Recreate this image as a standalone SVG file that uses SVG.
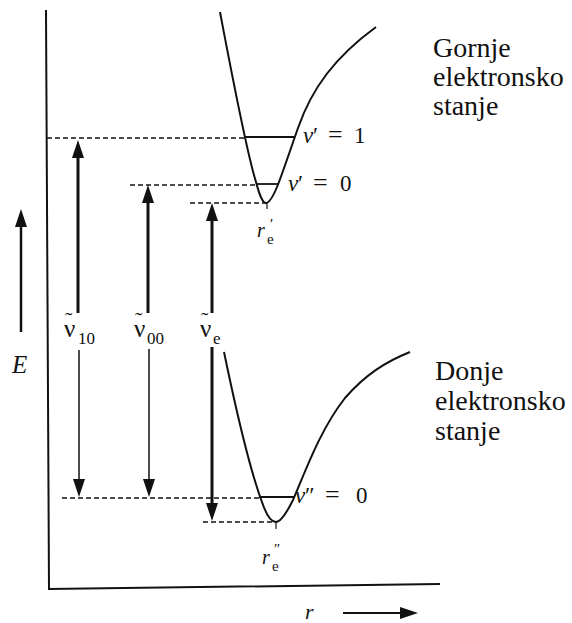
<svg xmlns="http://www.w3.org/2000/svg" width="572" height="623" viewBox="0 0 572 623">
<style>
.ax{stroke:#111;stroke-width:2;fill:none}
.curve{stroke:#111;stroke-width:2;fill:none;stroke-linejoin:round}
.lvl{stroke:#111;stroke-width:1.8}
.dash{stroke:#111;stroke-width:1.3;stroke-dasharray:5 3;fill:none}
.thick{stroke:#111;stroke-width:3;fill:none}
.thin{stroke:#111;stroke-width:1.5;fill:none}
.tick{stroke:#111;stroke-width:1.2}
text{font-family:"Liberation Serif","DejaVu Serif",serif;fill:#111}
.it{font-style:italic}
.big{font-size:28px}
.mid{font-size:23px}
.sub{font-size:17px}
</style>
<defs>
<marker id="ah" markerUnits="userSpaceOnUse" markerWidth="18" markerHeight="12" refX="2" refY="6" orient="auto" viewBox="0 0 18 12">
<path d="M0,0 L18,6 L0,12 z" fill="#111"/>
</marker>
</defs>
<rect width="572" height="623" fill="#fff"/>
<g id="axes">
<path class="ax" d="M46,10 L49,589 L440,584"/>
<path class="thick" style="stroke-width:2.5" d="M21,332 L21,225" marker-end="url(#ah)"/>
<text class="it" x="12" y="373" font-size="25">E</text>
<path class="ax" d="M343,613 L402,613" marker-end="url(#ah)"/>
<text class="it" x="305" y="619" font-size="22">r</text>
</g>
<g id="upper-state">
<path class="curve" d="M220,12 C232,75 246,150 256,182 C259,193 262,203 266,203 C270,203 274,195 279,182 C286,163 292,145 298,128 C312,88 335,57 376,27"/>
<line class="lvl" x1="245" y1="137" x2="294" y2="137"/>
<line class="lvl" x1="257" y1="184" x2="279" y2="184"/>
<line class="tick" x1="267" y1="203" x2="267" y2="209"/>
<text class="mid"><tspan class="it" x="303" y="143">v</tspan><tspan x="313" y="143">′</tspan><tspan x="328" y="143" font-size="26">=</tspan><tspan x="354" y="143">1</tspan></text>
<text class="mid"><tspan class="it" x="288" y="191">v</tspan><tspan x="298" y="191">′</tspan><tspan x="313" y="191" font-size="26">=</tspan><tspan x="340" y="191">0</tspan></text>
<text font-size="20"><tspan class="it" x="257" y="237">r</tspan><tspan x="270" y="229" font-size="15">′</tspan><tspan x="267" y="244" font-size="15">e</tspan></text>
<text class="big"><tspan x="433" y="57">Gornje</tspan><tspan x="433" y="86">elektronsko</tspan><tspan x="433" y="115">stanje</tspan></text>
</g>
<g id="lower-state">
<path class="curve" d="M224,352 C236,410 250,470 262,502 C266,514 271,522 276,522 C281,522 287,512 293,500 C306,470 320,430 345,398 C365,375 385,362 410,352"/>
<line class="lvl" x1="259" y1="497" x2="295" y2="497"/>
<line class="tick" x1="276" y1="522" x2="276" y2="529"/>
<text class="mid"><tspan class="it" x="295" y="503">v</tspan><tspan x="305" y="503">″</tspan><tspan x="325" y="503" font-size="26">=</tspan><tspan x="356" y="503">0</tspan></text>
<text font-size="20"><tspan class="it" x="262" y="564">r</tspan><tspan x="274" y="554" font-size="15">″</tspan><tspan x="272" y="571" font-size="15">e</tspan></text>
<text class="big"><tspan x="435" y="380">Donje</tspan><tspan x="435" y="410">elektronsko</tspan><tspan x="435" y="440">stanje</tspan></text>
</g>
<g id="connectors">
<line class="dash" x1="47" y1="138" x2="245" y2="138"/>
<line class="dash" x1="130" y1="185" x2="257" y2="185"/>
<line class="dash" x1="190" y1="203" x2="266" y2="203"/>
<line class="dash" x1="62" y1="498" x2="259" y2="498"/>
<line class="dash" x1="203" y1="522" x2="276" y2="522"/>
<path class="thick" d="M78,313 L78,156" marker-end="url(#ah)"/>
<path class="thin" d="M79,350 L79,481" marker-end="url(#ah)"/>
<path class="thick" d="M148,313 L148,201" marker-end="url(#ah)"/>
<path class="thin" d="M149,349 L149,481" marker-end="url(#ah)"/>
<path class="thick" d="M212,313 L212,219" marker-end="url(#ah)"/>
<path class="thick" d="M212,347 L212,505" marker-end="url(#ah)"/>
</g>
<g id="labels">
<text font-size="25"><tspan x="64" y="337">ν</tspan><tspan x="65" y="327" font-size="22">˜</tspan><tspan class="sub" x="78" y="344">10</tspan></text>
<text font-size="25"><tspan x="134" y="337">ν</tspan><tspan x="135" y="327" font-size="22">˜</tspan><tspan class="sub" x="147" y="344">00</tspan></text>
<text font-size="25"><tspan x="200" y="337">ν</tspan><tspan x="201" y="327" font-size="22">˜</tspan><tspan class="sub" x="213" y="344">e</tspan></text>
</g>
</svg>
